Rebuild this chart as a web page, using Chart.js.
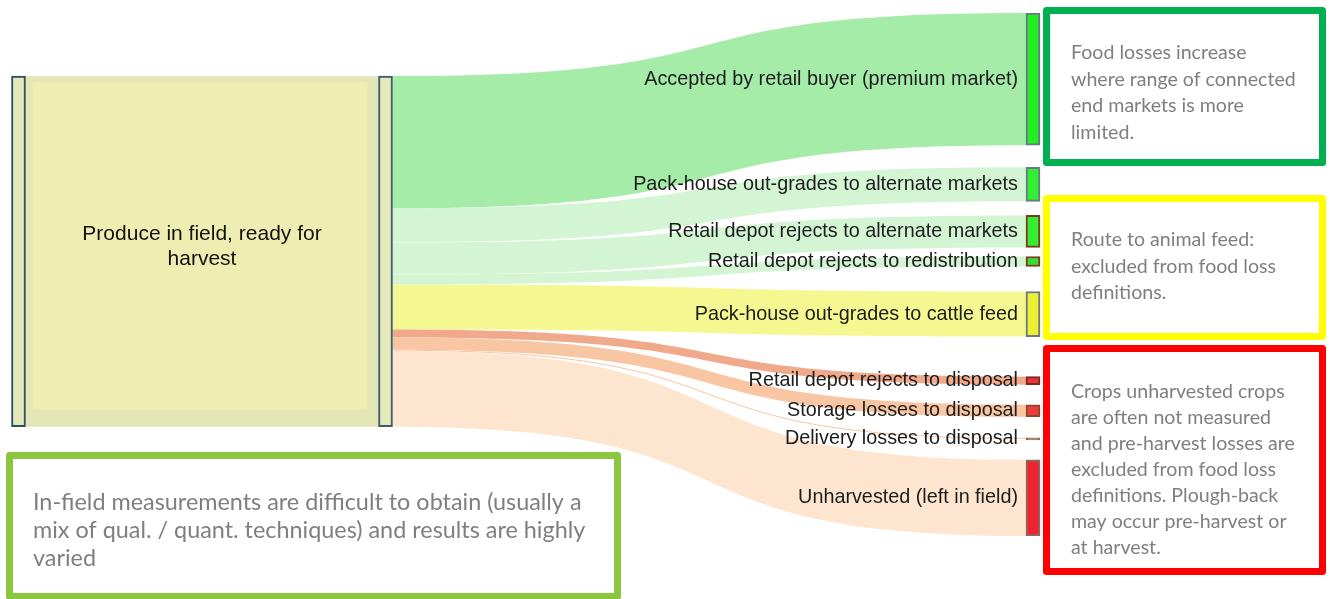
<!DOCTYPE html>
<html lang="en">
<head>
<meta charset="UTF-8">
<title>Produce flows from field to end markets</title>
<script src="https://cdn.jsdelivr.net/npm/chart.js"></script>
<style>
  html, body { margin: 0; padding: 0; background: #fff; }
  canvas { display: block; }
</style>
</head>
<body>
<canvas id="flowChart" width="1330" height="599"></canvas>
<script>
// flow data
const fieldLabel = ['Produce in field, ready for', 'harvest'];
const destinations = [
  'Accepted by retail buyer (premium market)',
  'Pack-house out-grades to alternate markets',
  'Retail depot rejects to alternate markets',
  'Retail depot rejects to redistribution',
  'Pack-house out-grades to cattle feed',
  'Retail depot rejects to disposal',
  'Storage losses to disposal',
  'Delivery losses to disposal',
  'Unharvested (left in field)'
];
const flowValues = [132, 34, 32, 10, 45, 8, 12, 1, 76];

// layout
const columnX = [18.5, 385.5, 1033];       // node columns on the x scale
const harvestTop = 63;                    // top of the stacked harvest node
const nodeGaps = [22, 14, 9, 25, 40, 20, 21, 21]; // spacing between end nodes
const nodeWidth = 14;
const curl = 0.62;

// colours
const nodeFill = ['#22ee22', '#33ee33', '#33ee33', '#33dd33', '#eeee33', '#ee3340', '#ee3b3b', '#8f6a4a', '#ee2233'];
const nodeBorder = ['#677788', '#6a7a85', '#80391a', '#80391a', '#6f7780', '#7a2a1a', '#8a4a2a', '#8f6a4a', '#8a6a5a'];
const linkColor = ['#a6eca9', '#d3f5d3', '#d3f5d3', '#d3f5d3', '#f5f790', '#f0a98a', '#f9c6a4', '#f9c6a4', '#fde5cf'];

const notes = [
  { box: [1043, 7, 1326, 166], color: '#00b050', font: 19.6, lead: 26.5, x: 1071, y: 53,
    lines: ['Food losses increase', 'where range of connected', 'end markets is more', 'limited.'] },
  { box: [1043, 195, 1326, 340], color: '#ffff00', font: 19.6, lead: 26.5, x: 1071, y: 240,
    lines: ['Route to animal feed:', 'excluded from food loss', 'definitions.'] },
  { box: [1043, 345, 1326, 575], color: '#ff0000', font: 19.6, lead: 26, x: 1071, y: 392,
    lines: ['Crops unharvested crops', 'are often not measured', 'and pre-harvest losses are',
            'excluded from food loss', 'definitions. Plough-back', 'may occur pre-harvest or', 'at harvest.'] },
  { box: [6, 452, 621, 600], color: '#8cc63e', font: 23.4, lead: 28, x: 33, y: 502,
    lines: ['In-field measurements are difficult to obtain (usually a',
            'mix of qual. / quant. techniques) and results are highly', 'varied'] }
];

// node bars: field, harvest, then every end point stacked with gaps
const total = flowValues.reduce((a, b) => a + b, 0);
const bars = [
  { x: columnX[0], y: [harvestTop, harvestTop + total] },
  { x: columnX[1], y: [harvestTop, harvestTop + total] }
];
let pos = 0;
flowValues.forEach((v, i) => {
  if (i > 0) pos += nodeGaps[i - 1];
  bars.push({ x: columnX[2], y: [pos, pos + v] });
  pos += v;
});
const yMax = pos;

function link(ctx, x0, x1, a0, a1, b0, b1) {
  const c1 = x0 + (x1 - x0) * curl;
  const c2 = x1 - (x1 - x0) * curl;
  ctx.beginPath();
  ctx.moveTo(x0, a0);
  ctx.bezierCurveTo(c1, a0, c2, b0, x1, b0);
  ctx.lineTo(x1, b1);
  ctx.bezierCurveTo(c2, b1, c1, a1, x0, a1);
  ctx.closePath();
  ctx.fill();
}

const linksPlugin = {
  id: 'links',
  beforeDatasetsDraw(chart) {
    const ctx = chart.ctx;
    const ys = chart.scales.y;
    const nodes = chart.getDatasetMeta(0).data;
    const field = nodes[0], harvest = nodes[1];
    const fRight = field.x + field.width / 2;
    const hLeft = harvest.x - harvest.width / 2;
    const hRight = harvest.x + harvest.width / 2;
    const top = ys.getPixelForValue(harvestTop);
    const bot = ys.getPixelForValue(harvestTop + total);
    ctx.save();
    // field -> harvest band
    ctx.fillStyle = '#e3e6b6';
    ctx.fillRect(fRight, top, hLeft - fRight, bot - top);
    ctx.fillStyle = '#eeeeb2';
    ctx.fillRect(fRight + 7, top + 6, hLeft - fRight - 18, bot - top - 23);
    // harvest -> end points
    let s = harvestTop;
    flowValues.forEach((v, i) => {
      const end = nodes[i + 2];
      const x1 = end.x - end.width / 2;
      ctx.fillStyle = linkColor[i];
      link(ctx, hRight, x1,
        ys.getPixelForValue(s), ys.getPixelForValue(s + v),
        ys.getPixelForValue(bars[i + 2].y[0]), ys.getPixelForValue(bars[i + 2].y[1]));
      s += v;
    });
    ctx.restore();
  },
  afterDatasetsDraw(chart) {
    const ctx = chart.ctx;
    const ys = chart.scales.y;
    const nodes = chart.getDatasetMeta(0).data;
    ctx.save();
    ctx.fillStyle = '#1c1c1c';
    ctx.textBaseline = 'middle';
    ctx.font = '19.8px "Liberation Sans", Arial, sans-serif';
    ctx.textAlign = 'right';
    destinations.forEach((name, i) => {
      const b = bars[i + 2].y;
      const n = nodes[i + 2];
      ctx.fillText(name, n.x - n.width / 2 - 8, ys.getPixelForValue((b[0] + b[1]) / 2));
    });
    // field node label between the two columns
    const fx = (nodes[0].x + nodes[1].x) / 2;
    const fy = ys.getPixelForValue(harvestTop + total / 2);
    ctx.font = '21px "Liberation Sans", Arial, sans-serif';
    ctx.textAlign = 'center';
    ctx.fillStyle = '#111';
    fieldLabel.forEach((t, k) => ctx.fillText(t, fx, fy + (k - (fieldLabel.length - 1) / 2) * 25 - 5));
    ctx.restore();
  },
  afterDraw(chart) {
    const ctx = chart.ctx;
    ctx.save();
    notes.forEach(n => {
      const [x0, y0, x1, y1] = n.box;
      ctx.strokeStyle = n.color;
      ctx.lineWidth = 7;
      ctx.lineJoin = 'round';
      ctx.strokeRect(x0 + 3.5, y0 + 3.5, x1 - x0 - 7, y1 - y0 - 7);
      ctx.fillStyle = '#7f7f7f';
      ctx.font = n.font + 'px Lato, "Open Sans", sans-serif';
      ctx.textAlign = 'left';
      ctx.textBaseline = 'middle';
      n.lines.forEach((t, k) => ctx.fillText(t, n.x, n.y + k * n.lead));
    });
    ctx.restore();
  }
};

new Chart(document.getElementById('flowChart'), {
  type: 'bar',
  data: {
    datasets: [{
      data: bars,
      backgroundColor: ['#e5e8b8', '#e5e8b8', ...nodeFill],
      borderColor: ['#2e4d68', '#3c5a72', ...nodeBorder],
      borderWidth: 2,
      borderSkipped: false,
      barThickness: nodeWidth,
      minBarLength: 2,
      grouped: false
    }]
  },
  options: {
    responsive: false,
    animation: false,
    events: [],
    layout: { padding: { top: 13, bottom: 63, left: 0, right: 0 } },
    plugins: { legend: { display: false }, tooltip: { enabled: false } },
    scales: {
      x: { type: 'linear', min: 0, max: 1330, offset: false, display: false },
      y: { min: 0, max: yMax, reverse: true, display: false }
    }
  },
  plugins: [linksPlugin]
});
</script>
</body>
</html>
